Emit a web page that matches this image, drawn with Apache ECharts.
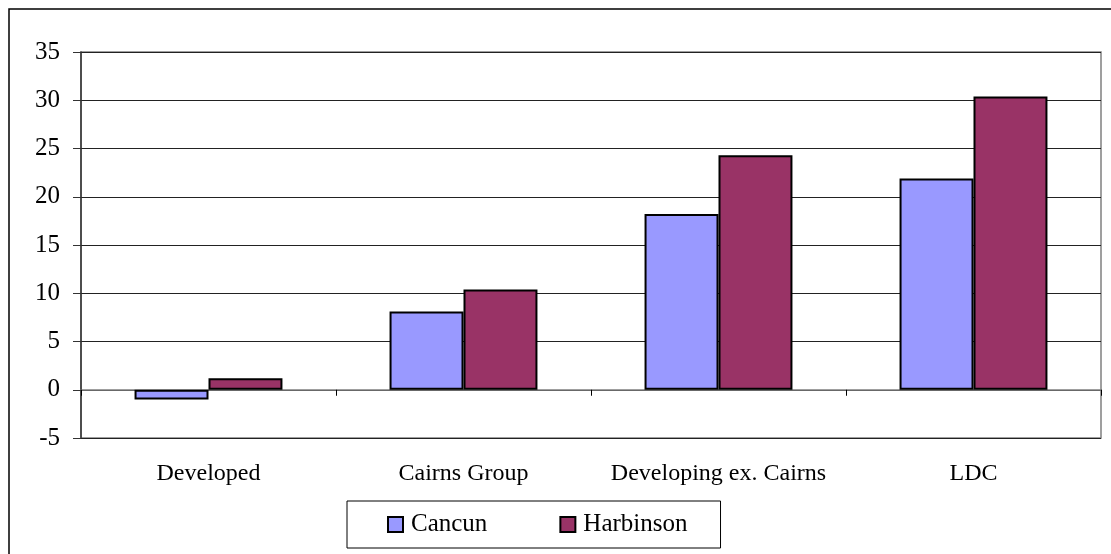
<!DOCTYPE html>
<html>
<head>
<meta charset="utf-8">
<script src="https://cdn.jsdelivr.net/npm/echarts@6/dist/echarts.min.js"></script>
<style>
html,body{margin:0;padding:0;background:#fff;}
#chart{width:1111px;height:554px;}
</style>
</head>
<body>
<div id="chart"></div>
<script>
const categories = ['Developed', 'Cairns Group', 'Developing ex. Cairns', 'LDC'];
const cancun = [-1.0, 8.1, 18.2, 21.9];
const harbinson = [1.2, 10.4, 24.3, 30.4];
const seriesNames = ['Cancun', 'Harbinson'];

const FONT = '"Liberation Serif", "DejaVu Serif", serif';
const chart = echarts.init(document.getElementById('chart'));
chart.setOption({
  animation: false,
  backgroundColor: '#fff',
  textStyle: { fontFamily: FONT },
  graphic: [{
    type: 'rect',
    shape: { x: 9, y: 9, width: 1112, height: 560 },
    style: { fill: 'none', stroke: '#000', lineWidth: 1.5 },
    silent: true
  }],
  grid: {
    left: 81, right: 10, top: 52, bottom: 116,
    show: true, borderColor: '#808080', borderWidth: 1.5, backgroundColor: 'transparent'
  },
  legend: {
    data: seriesNames,
    left: 347, top: 501,
    padding: [11, 33, 11, 40],
    itemGap: 72,
    itemWidth: 15, itemHeight: 15,
    icon: 'rect',
    borderColor: '#000', borderWidth: 1,
    textStyle: { fontFamily: FONT, fontSize: 25, color: '#000', padding: [0, 0, 0, 3] }
  },
  xAxis: [{
    type: 'category',
    data: categories,
    axisLine: { show: true, onZero: true, lineStyle: { color: '#808080', width: 1.5 } },
    axisTick: { show: true, length: 6, interval: 0, lineStyle: { color: '#000' } },
    axisLabel: { show: false },
    splitLine: { show: false }
  }, {
    type: 'category',
    data: categories,
    position: 'bottom',
    axisLine: { show: false, onZero: false },
    axisTick: { show: false },
    axisLabel: { show: true, interval: 0, margin: 24, fontFamily: FONT, fontSize: 24, color: '#000' },
    splitLine: { show: false }
  }],
  yAxis: {
    type: 'value',
    min: -5, max: 35, interval: 5,
    axisLine: { show: true, lineStyle: { color: '#333', width: 1.5 } },
    axisTick: { show: true, length: 8, lineStyle: { color: '#333' } },
    axisLabel: { margin: 21, fontFamily: FONT, fontSize: 25, color: '#000' },
    splitLine: { show: true, lineStyle: { color: '#222', width: 1 } }
  },
  series: [{
    name: seriesNames[0],
    type: 'bar',
    data: cancun,
    barGap: '0%',
    barCategoryGap: '42%',
    itemStyle: { color: '#9999FF', borderColor: '#000', borderWidth: 2 }
  }, {
    name: seriesNames[1],
    type: 'bar',
    data: harbinson,
    barGap: '0%',
    barCategoryGap: '42%',
    itemStyle: { color: '#993366', borderColor: '#000', borderWidth: 2 }
  }]
});
</script>
</body>
</html>
